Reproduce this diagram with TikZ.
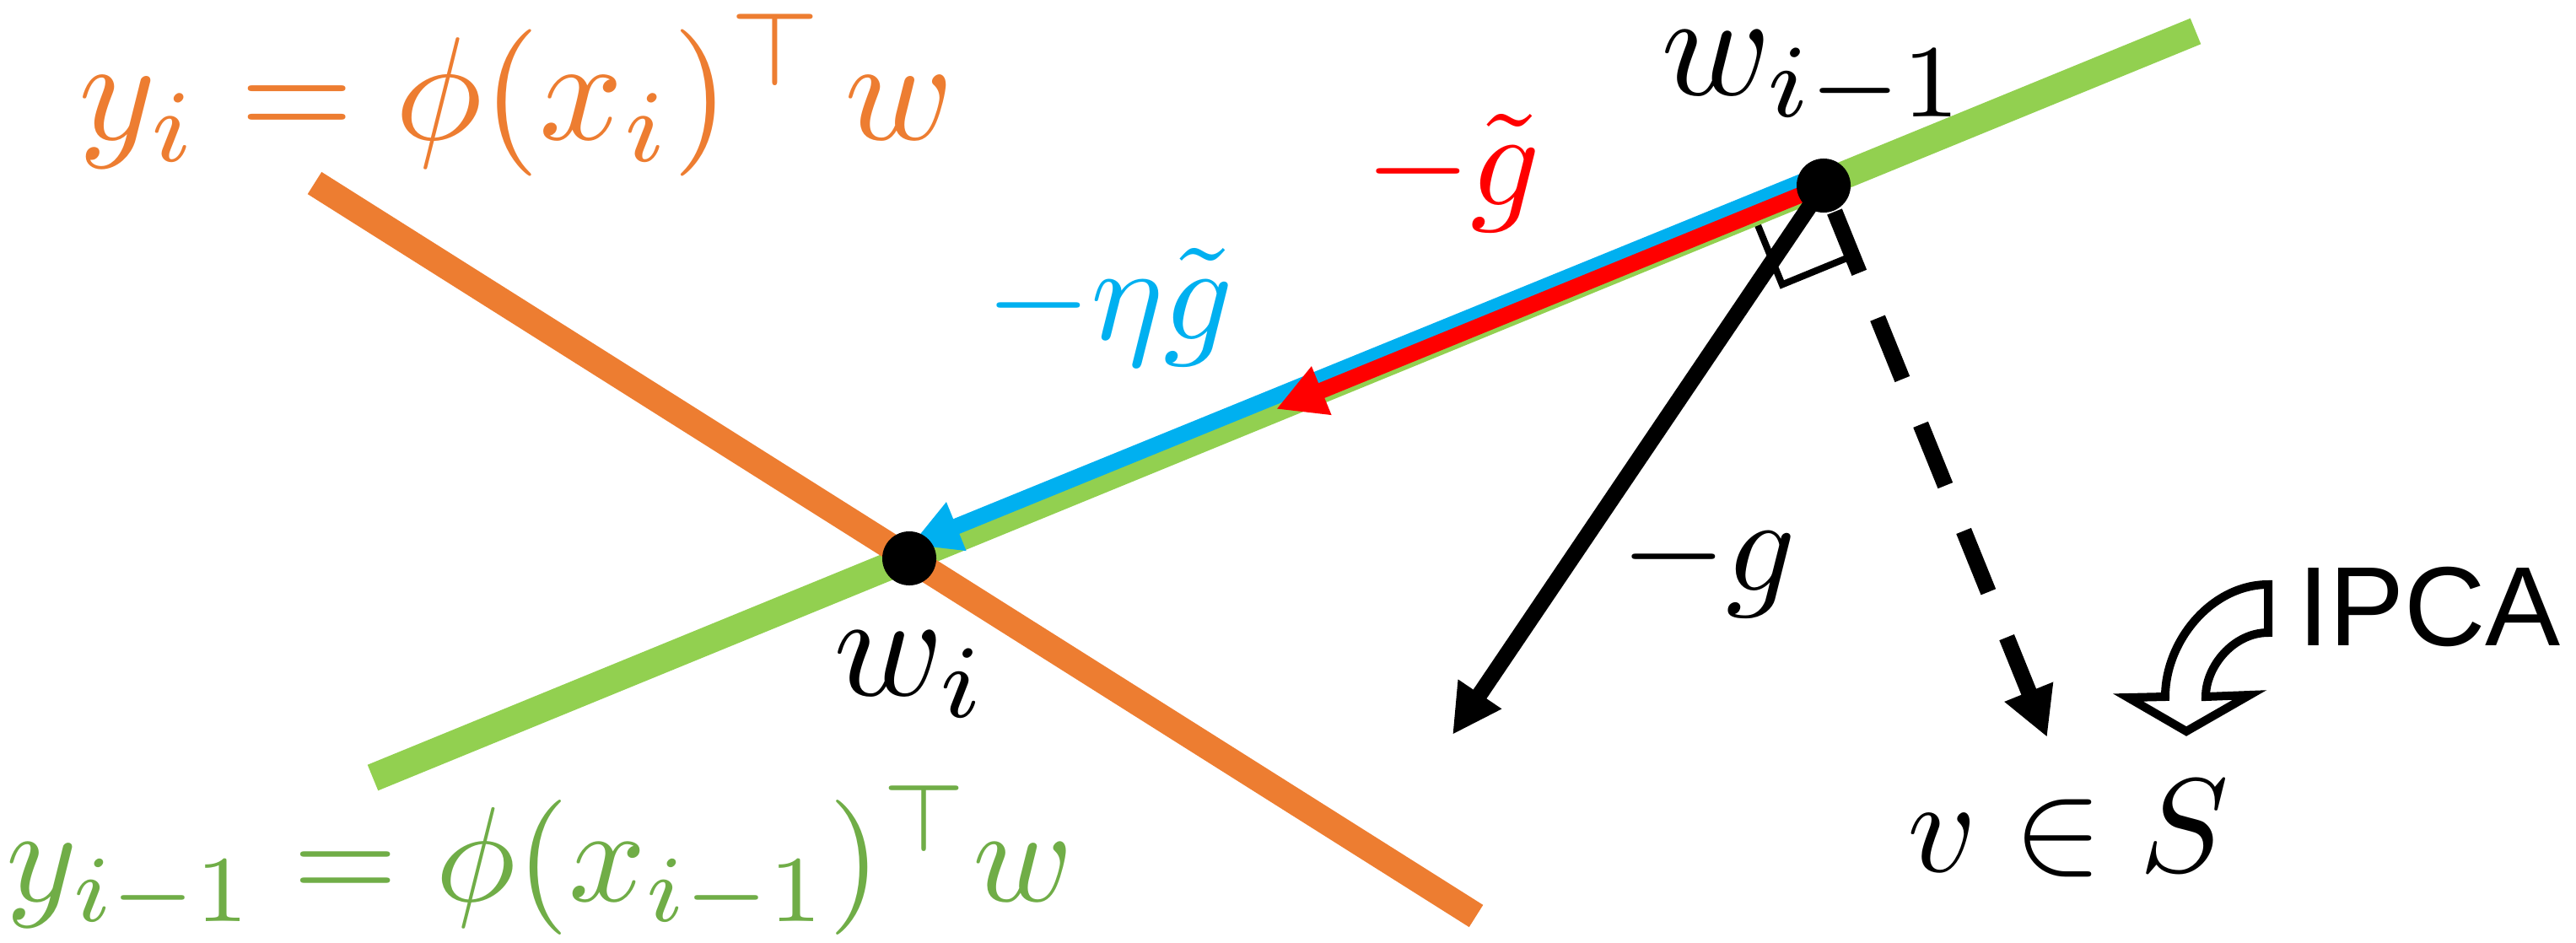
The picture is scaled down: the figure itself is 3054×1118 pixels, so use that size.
\documentclass[tikz,border=0pt]{standalone}
\usepackage{graphicx}
\usepackage{fontspec}
\newfontfamily\ipcafont{Liberation Sans}
\usetikzlibrary{arrows.meta}
\definecolor{orangeL}{HTML}{ED7D31}
\definecolor{greenL}{HTML}{92D050}
\definecolor{greenT}{HTML}{70AD47}
\definecolor{blueL}{HTML}{00B0F0}
\definecolor{redL}{HTML}{FF0000}
\begin{document}
\begin{tikzpicture}[x=0.01cm,y=-0.01cm,
  lbl/.style={anchor=base west, inner sep=0pt, outer sep=0pt},
  dotnode/.style={circle, fill=black, inner sep=0pt, minimum size=0.64cm},
  vec/.style={line width=0.19cm, -{Triangle[length=0.58cm,width=0.58cm]}},
  planeG/.style={line width=0.33cm, greenL},
  planeO/.style={line width=0.31cm, orangeL},
  rightmark/.style={line width=0.08cm, black, line join=miter},
  ipcaarrow/.style={line width=0.1cm, black, fill=white, line join=miter}]
\useasboundingbox (0,0) rectangle (3054,1118);
% key points
\coordinate (gA) at (442,922);
\coordinate (gB) at (2603,37);
\coordinate (oA) at (373,217);
\coordinate (oB) at (1750,1086);
\coordinate (C) at (2162,220);
\coordinate (W) at (1078,662);
\coordinate (bS) at (2157,207);
\coordinate (bT) at (1080,646);
\coordinate (rT) at (1513,485);
\coordinate (kT) at (1722,871);
\coordinate (dS) at (2175,251);
\coordinate (dT) at (2427,874);
\coordinate (m1) at (2078.7,254.1);
\coordinate (m2) at (2112.8,337.4);
\coordinate (m3) at (2196.1,303.3);
% right-angle mark
\draw[rightmark] (m1) -- (m2) -- (m3);
% hyperplanes
\draw[planeG] (gA) -- (gB);
\draw[planeO] (oA) -- (oB);
% vectors
\draw[vec, blueL] (bS) -- (bT);
\draw[vec, redL] (C) -- (rT);
\draw[vec, black] (C) -- (kT);
\draw[vec, black, dash pattern=on 0.78cm off 0.58cm] (dS) -- (dT);
% points
\node[dotnode] (wPrev) at (C) {};
\node[dotnode] (wCur) at (W) {};
% IPCA curved arrow
\draw[ipcaarrow] (2689,693) .. controls (2622,693) and (2567,760) .. (2567,826)
  -- (2523,827) -- (2592,867) -- (2667,824) -- (2615,826)
  .. controls (2615,790) and (2648,750) .. (2689,750) -- cycle;
% labels
\node[lbl, text=orangeL] (eqO) at (93,165) {\scalebox{4.95}{$y_i = \phi(x_i)^{\top}\mkern2mu w$}};
\node[lbl, text=greenT] (eqG) at (8,1068) {\scalebox{4.55}{$y_{i-1} = \phi(x_{i-1})^{\top} w$}};
\node[lbl] (lwPrev) at (1969,112) {\scalebox{5.0}{$w_{i-1}$}};
\node[lbl] (lwCur) at (988,824) {\scalebox{5.0}{$w_{i}$}};
\node[lbl, text=redL] (lred) at (1618,243) {\scalebox{4.6}{$-\tilde{g}$}};
\node[lbl, text=blueL] (lblue) at (1168,402) {\scalebox{4.6}{$-\eta\tilde{g}$}};
\node[lbl] (lgrad) at (1921,700) {\scalebox{4.6}{$-g$}};
\node[lbl] (lvS) at (2261,1033) {\scalebox{4.5}{$v \in S$}};
\node[lbl] (lipca) at (2724,765) {\fontsize{38}{44}\selectfont\ipcafont IPCA};
\end{tikzpicture}
\end{document}
